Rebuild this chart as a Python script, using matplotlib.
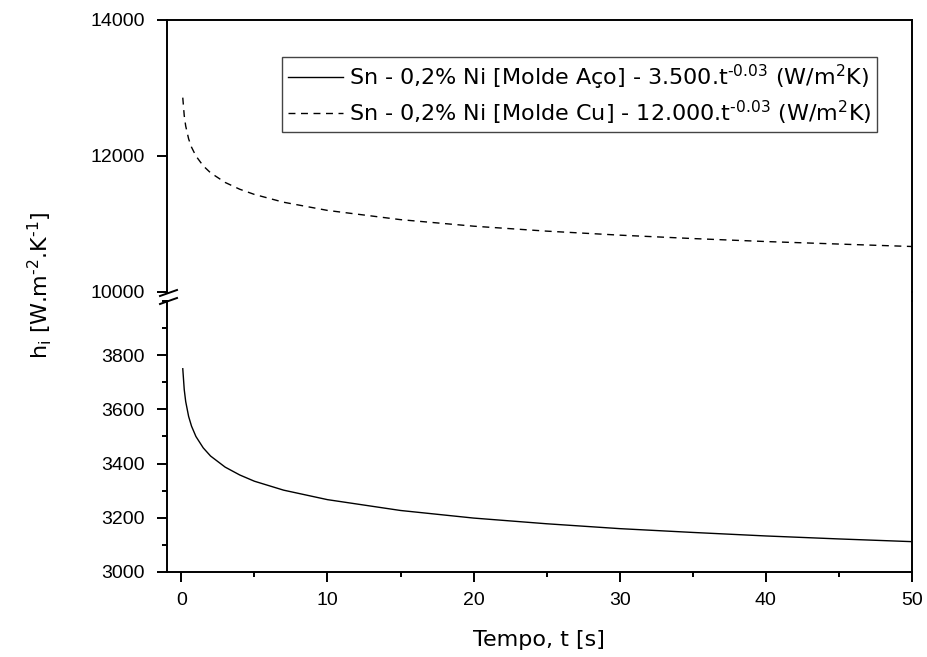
from matplotlib import pyplot as plt, rcParams
from matplotlib.lines import Line2D
from matplotlib.ticker import MultipleLocator

# tempo [s] e h_i
tempo = [0.1, 0.2, 0.3, 0.5, 0.7, 1, 1.5, 2, 3, 4, 5, 7, 10, 15, 20, 25, 30, 35, 40, 45, 50]
h_aco = [3750, 3673, 3629, 3574, 3538, 3500, 3458, 3428, 3387, 3358, 3335,
         3302, 3267, 3227, 3199, 3178, 3160, 3146, 3133, 3122, 3112]
h_cu = [12858, 12594, 12441, 12252, 12129, 12000, 11855, 11753, 11611, 11511, 11435,
        11320, 11200, 11064, 10968, 10895, 10836, 10786, 10742, 10705, 10669]

lbl_aco = 'Sn - 0,2% Ni [Molde Aço] - 3.500.t$^{\\mathregular{\u20100.03}}$ (W/m$^{\\mathregular{2}}$K)'
lbl_cu = 'Sn - 0,2% Ni [Molde Cu] - 12.000.t$^{\\mathregular{\u20100.03}}$ (W/m$^{\\mathregular{2}}$K)'

rcParams['font.family'] = 'Liberation Sans'
rcParams['mathtext.default'] = 'regular'
rcParams['axes.linewidth'] = 1.4

W, H = 927, 657
fig = plt.figure(figsize=(W / 100, H / 100), dpi=100)

# posições em pixels
xl, xr = 166.7, 912
up_top, up_bot = 20, 292
lo_top, lo_bot = 301, 572

def box(top, bot):
    return [xl / W, 1 - bot / H, (xr - xl) / W, (bot - top) / H]

ax_up = fig.add_axes(box(up_top, up_bot))
ax_lo = fig.add_axes(box(lo_top, lo_bot))

ax_up.plot(tempo, h_cu, color='black', lw=1.0, dashes=(5, 4))
ax_lo.plot(tempo, h_aco, color='black', lw=1.0)

for ax in (ax_up, ax_lo):
    ax.set_xlim(-1, 50)
    ax.tick_params(direction='out', width=1.4, length=7.5, labelsize=14)
    ax.tick_params(which='minor', direction='out', width=1.4, length=3.5)
    ax.tick_params(right=False, top=False)
    ax.tick_params(axis='y', pad=8)
    ax.tick_params(axis='x', pad=7)

ax_up.set_ylim(10000, 14000)
ax_up.yaxis.set_major_locator(MultipleLocator(2000))
ax_up.spines['bottom'].set_visible(False)
ax_up.tick_params(bottom=False, labelbottom=False)

ax_lo.set_ylim(3000, 4000)
ax_lo.set_yticks([3000, 3200, 3400, 3600, 3800])
ax_lo.yaxis.set_minor_locator(MultipleLocator(100))
ax_lo.xaxis.set_major_locator(MultipleLocator(10))
ax_lo.xaxis.set_minor_locator(MultipleLocator(5))
ax_lo.spines['top'].set_visible(False)

# espinha direita contínua no intervalo da quebra
fig.add_artist(Line2D([xr / W, xr / W], [1 - lo_top / H, 1 - up_bot / H],
                      color='black', lw=1.4))
# marcas de quebra
for yb in (up_bot + 1, lo_top):
    fig.add_artist(Line2D([160 / W, 177 / W], [1 - (yb + 3) / H, 1 - (yb - 3) / H],
                          color='black', lw=1.4))

handles = [Line2D([], [], color='black', lw=1.0),
           Line2D([], [], color='black', lw=1.0, dashes=(5, 4))]
leg = ax_up.legend(handles, [lbl_aco, lbl_cu], loc='upper right',
                   bbox_to_anchor=(0.953, 0.864), borderaxespad=0,
                   fancybox=False, edgecolor='#444444', framealpha=1,
                   prop={'family': 'DejaVu Sans', 'size': 16},
                   handlelength=2.5, handletextpad=0.25, borderpad=0.25,
                   labelspacing=0.3)
leg.get_frame().set_linewidth(1.0)

fig.text(40 / W, 1 - 285 / H,
         'h$_\\mathregular{i}$ [W.m$^{\\mathregular{\u20102}}$.K$^{\\mathregular{\u20101}}$]',
         rotation=90, ha='center', va='center', fontsize=16, family='DejaVu Sans')
fig.text((xl + xr) / 2 / W, 1 - 640 / H, 'Tempo, t [s]',
         ha='center', va='center', fontsize=16, family='DejaVu Sans')

fig.savefig('out.png', dpi=100)
